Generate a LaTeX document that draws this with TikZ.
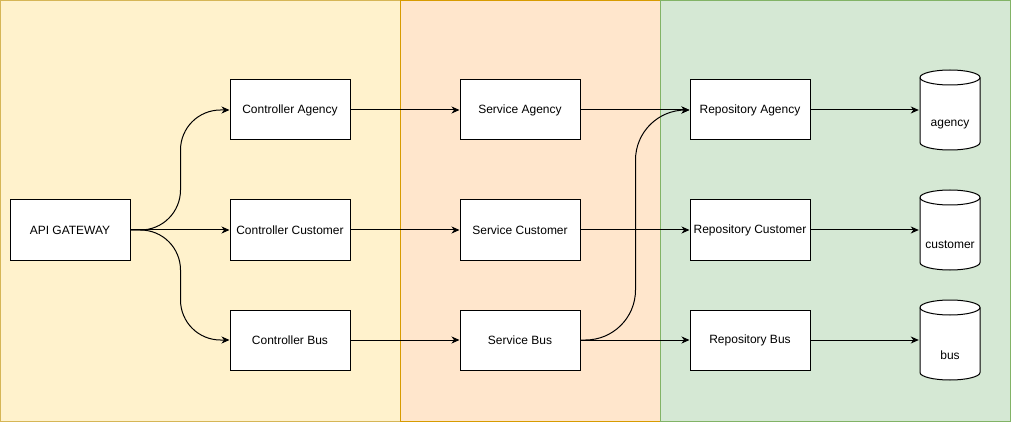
\documentclass[tikz,border=0pt]{standalone}
\usepackage{fontspec}
\setmainfont{Liberation Sans}
\usetikzlibrary{arrows.meta}
\pgfdeclarelayer{backlayer}
\pgfdeclarelayer{edgelayer}
\pgfdeclarelayer{nodelayer}
\pgfsetlayers{backlayer,edgelayer,nodelayer,main}
\definecolor{gwfill}{HTML}{FFF2CC}
\definecolor{gwdraw}{HTML}{D6B656}
\definecolor{svfill}{HTML}{FFE6CC}
\definecolor{svdraw}{HTML}{D79B00}
\definecolor{rpfill}{HTML}{D5E8D4}
\definecolor{rpdraw}{HTML}{82B366}
\tikzstyle{block}=[rectangle,fill=white,draw=black,line width=1pt,minimum width=120pt,minimum height=60pt,inner sep=0pt,font=\fontsize{12}{14}\selectfont]
\tikzstyle{store}=[rectangle,minimum width=62pt,minimum height=82pt,inner sep=0pt,
	path picture={
		\draw [fill=white, line width=1pt] ([shift={(1pt,-8.5pt)}]path picture bounding box.north west)
			-- ([shift={(1pt,8.5pt)}]path picture bounding box.south west)
			arc [start angle=180, end angle=360, x radius=30pt, y radius=7.5pt]
			-- ([shift={(-1pt,-8.5pt)}]path picture bounding box.north east)
			arc [start angle=0, end angle=180, x radius=30pt, y radius=7.5pt] -- cycle;
		\draw [line width=1pt] ([shift={(1pt,-8.5pt)}]path picture bounding box.north west)
			arc [start angle=180, end angle=360, x radius=30pt, y radius=7.5pt];
	}]
\tikzstyle{storetext}=[font=\fontsize{12}{14}\selectfont, yshift=-15pt]
\tikzstyle{flow}=[-{Stealth[length=8pt,width=7pt,inset=2.5pt]},draw=black,line width=1pt]
\tikzstyle{curveflow}=[flow,rounded corners=40pt]

\begin{document}
\begin{tikzpicture}[x=1pt,y=-1pt]
	\useasboundingbox (0,0) rectangle (1012,422);
	\begin{pgfonlayer}{backlayer}
		\draw [fill=gwfill, draw=gwdraw, line width=1pt] (0.5,0.5) rectangle (400,421.5);
		\draw [fill=svfill, draw=svdraw, line width=1pt] (400,0.5) rectangle (660,421.5);
		\draw [fill=rpfill, draw=rpdraw, line width=1pt] (660,0.5) rectangle (1010,421.5);
	\end{pgfonlayer}
	\begin{pgfonlayer}{nodelayer}
		\node [style=block] (0) at (70, 230) {API GATEWAY};
		\node [style=block] (1) at (290, 110) {Controller Agency};
		\node [style=block] (2) at (290, 230) {Controller Customer};
		\node [style=block] (3) at (290, 340) {Controller Bus};
		\node [style=block] (4) at (520, 110) {Service Agency};
		\node [style=block] (5) at (520, 230) {Service Customer};
		\node [style=block] (6) at (520, 340) {Service Bus};
		\node [style=block] (7) at (750, 110) {Repository Agency};
		\node [style=block] (8) at (750, 230) {Repository Customer};
		\node [style=block] (9) at (750, 340) {Repository Bus};
		\node [style=store, label={[storetext]center:agency}] (10) at (950, 110) {};
		\node [style=store, label={[storetext]center:customer}] (11) at (950, 230) {};
		\node [style=store, label={[storetext]center:bus}] (12) at (950, 340) {};
	\end{pgfonlayer}
	\begin{pgfonlayer}{edgelayer}
		\draw [style=curveflow] (0.east) -- ++(50,0) |- (1.west);
		\draw [style=flow] (0) to (2);
		\draw [style=curveflow] (0.east) -- ++(50,0) |- (3.west);
		\draw [style=flow] (1) to (4);
		\draw [style=flow] (2) to (5);
		\draw [style=flow] (3) to (6);
		\draw [style=flow] (4) to (7);
		\draw [style=flow] (5) to (8);
		\draw [style=flow] (6) to (9);
		\draw [style=curveflow, rounded corners=50pt] (6.east) -- ++(55,0) |- (7.west);
		\draw [style=flow] (7) to (10);
		\draw [style=flow] (8) to (11);
		\draw [style=flow] (9) to (12);
	\end{pgfonlayer}
\end{tikzpicture}
\end{document}
